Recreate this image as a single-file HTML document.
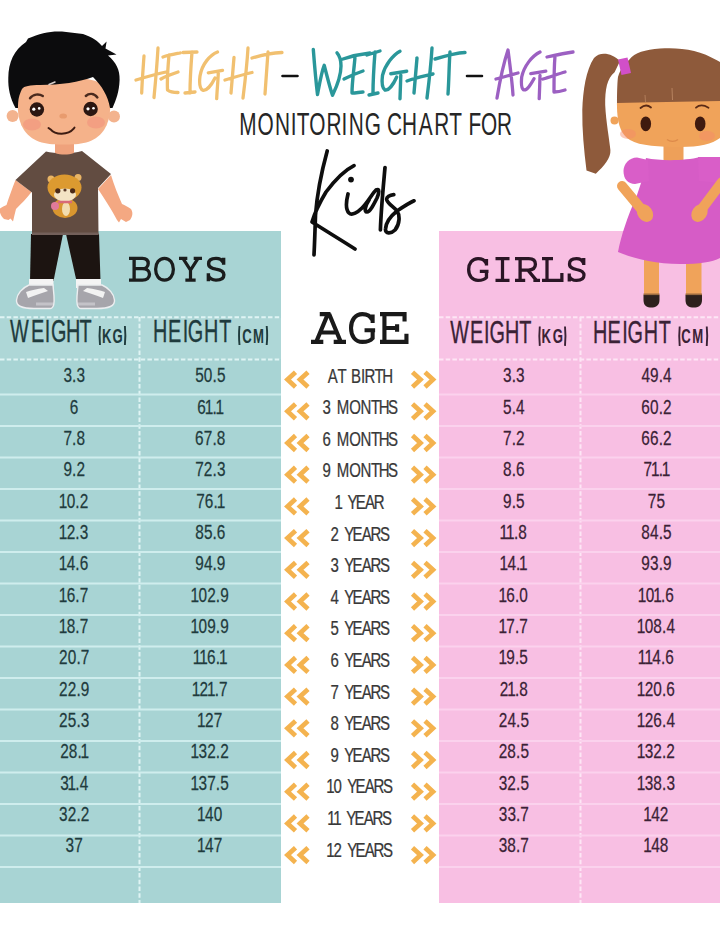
<!DOCTYPE html>
<html><head><meta charset="utf-8"><title>Height Weight Age Chart for Kids</title>
<style>
html,body{margin:0;padding:0;background:#fff;}
body{width:720px;height:931px;overflow:hidden;position:relative;font-family:"Liberation Sans",sans-serif;}
svg{position:absolute;left:0;top:0;}
</style></head><body>
<svg width="720" height="931" viewBox="0 0 720 931">
<rect x="0" y="231" width="281" height="672" fill="#a8d4d4"/>
<rect x="439" y="231" width="281" height="672" fill="#f8bfe3"/>
<rect x="0" y="318" width="281" height="41" fill="#ffffff" opacity="0.07"/>
<line x1="0" y1="317.2" x2="281" y2="317.2" stroke="#dff4f4" stroke-width="2" stroke-dasharray="4.5 2.2"/>
<line x1="0" y1="359.4" x2="281" y2="359.4" stroke="#dff4f4" stroke-width="2" stroke-dasharray="4.5 2.2"/>
<line x1="139.5" y1="317" x2="139.5" y2="903" stroke="#dff4f4" stroke-width="2" stroke-dasharray="4.5 2.2"/>
<line x1="0" y1="394.4" x2="281" y2="394.4" stroke="#cfeded" stroke-width="2"/>
<line x1="0" y1="425.9" x2="281" y2="425.9" stroke="#cfeded" stroke-width="2"/>
<line x1="0" y1="457.4" x2="281" y2="457.4" stroke="#cfeded" stroke-width="2"/>
<line x1="0" y1="488.9" x2="281" y2="488.9" stroke="#cfeded" stroke-width="2"/>
<line x1="0" y1="520.4" x2="281" y2="520.4" stroke="#cfeded" stroke-width="2"/>
<line x1="0" y1="551.9" x2="281" y2="551.9" stroke="#cfeded" stroke-width="2"/>
<line x1="0" y1="583.4" x2="281" y2="583.4" stroke="#cfeded" stroke-width="2"/>
<line x1="0" y1="614.9" x2="281" y2="614.9" stroke="#cfeded" stroke-width="2"/>
<line x1="0" y1="646.4" x2="281" y2="646.4" stroke="#cfeded" stroke-width="2"/>
<line x1="0" y1="677.9" x2="281" y2="677.9" stroke="#cfeded" stroke-width="2"/>
<line x1="0" y1="709.4" x2="281" y2="709.4" stroke="#cfeded" stroke-width="2"/>
<line x1="0" y1="740.9" x2="281" y2="740.9" stroke="#cfeded" stroke-width="2"/>
<line x1="0" y1="772.4" x2="281" y2="772.4" stroke="#cfeded" stroke-width="2"/>
<line x1="0" y1="803.9" x2="281" y2="803.9" stroke="#cfeded" stroke-width="2"/>
<line x1="0" y1="835.4" x2="281" y2="835.4" stroke="#cfeded" stroke-width="2"/>
<line x1="0" y1="866.9" x2="281" y2="866.9" stroke="#cfeded" stroke-width="2"/>
<rect x="439" y="318" width="281" height="41" fill="#ffffff" opacity="0.07"/>
<line x1="439" y1="317.2" x2="720" y2="317.2" stroke="#fde6f5" stroke-width="2" stroke-dasharray="4.5 2.2"/>
<line x1="439" y1="359.4" x2="720" y2="359.4" stroke="#fde6f5" stroke-width="2" stroke-dasharray="4.5 2.2"/>
<line x1="580.5" y1="317" x2="580.5" y2="903" stroke="#fde6f5" stroke-width="2" stroke-dasharray="4.5 2.2"/>
<line x1="439" y1="394.4" x2="720" y2="394.4" stroke="#fbd2ed" stroke-width="2"/>
<line x1="439" y1="425.9" x2="720" y2="425.9" stroke="#fbd2ed" stroke-width="2"/>
<line x1="439" y1="457.4" x2="720" y2="457.4" stroke="#fbd2ed" stroke-width="2"/>
<line x1="439" y1="488.9" x2="720" y2="488.9" stroke="#fbd2ed" stroke-width="2"/>
<line x1="439" y1="520.4" x2="720" y2="520.4" stroke="#fbd2ed" stroke-width="2"/>
<line x1="439" y1="551.9" x2="720" y2="551.9" stroke="#fbd2ed" stroke-width="2"/>
<line x1="439" y1="583.4" x2="720" y2="583.4" stroke="#fbd2ed" stroke-width="2"/>
<line x1="439" y1="614.9" x2="720" y2="614.9" stroke="#fbd2ed" stroke-width="2"/>
<line x1="439" y1="646.4" x2="720" y2="646.4" stroke="#fbd2ed" stroke-width="2"/>
<line x1="439" y1="677.9" x2="720" y2="677.9" stroke="#fbd2ed" stroke-width="2"/>
<line x1="439" y1="709.4" x2="720" y2="709.4" stroke="#fbd2ed" stroke-width="2"/>
<line x1="439" y1="740.9" x2="720" y2="740.9" stroke="#fbd2ed" stroke-width="2"/>
<line x1="439" y1="772.4" x2="720" y2="772.4" stroke="#fbd2ed" stroke-width="2"/>
<line x1="439" y1="803.9" x2="720" y2="803.9" stroke="#fbd2ed" stroke-width="2"/>
<line x1="439" y1="835.4" x2="720" y2="835.4" stroke="#fbd2ed" stroke-width="2"/>
<line x1="439" y1="866.9" x2="720" y2="866.9" stroke="#fbd2ed" stroke-width="2"/>
<text transform="scale(0.75,1)" x="84.63 96.09 101.96" y="382.3" font-family="Liberation Sans" font-size="20.5" fill="#1f3b3d" stroke="#1f3b3d" stroke-width="0.25">3.3</text>
<text transform="scale(0.75,1)" x="260.25 271.83 283.35 289.19" y="382.3" font-family="Liberation Sans" font-size="20.5" fill="#1f3b3d" stroke="#1f3b3d" stroke-width="0.25">50.5</text>
<text transform="scale(0.75,1)" x="670.76 682.22 688.09" y="382.3" font-family="Liberation Sans" font-size="20.5" fill="#3b2236" stroke="#3b2236" stroke-width="0.25">3.3</text>
<text transform="scale(0.75,1)" x="855.23 866.77 878.29 884.16" y="382.3" font-family="Liberation Sans" font-size="20.5" fill="#3b2236" stroke="#3b2236" stroke-width="0.25">49.4</text>
<text transform="scale(0.75,1)" x="93.16" y="413.7" font-family="Liberation Sans" font-size="20.5" fill="#1f3b3d" stroke="#1f3b3d" stroke-width="0.25">6</text>
<text transform="scale(0.75,1)" x="262.96 272.95 283.35 287.49" y="413.7" font-family="Liberation Sans" font-size="20.5" fill="#1f3b3d" stroke="#1f3b3d" stroke-width="0.25">61.1</text>
<text transform="scale(0.75,1)" x="670.72 682.22 688.10" y="413.7" font-family="Liberation Sans" font-size="20.5" fill="#3b2236" stroke="#3b2236" stroke-width="0.25">5.4</text>
<text transform="scale(0.75,1)" x="855.10 866.77 878.29 884.10" y="413.7" font-family="Liberation Sans" font-size="20.5" fill="#3b2236" stroke="#3b2236" stroke-width="0.25">60.2</text>
<text transform="scale(0.75,1)" x="84.56 96.09 101.90" y="445.0" font-family="Liberation Sans" font-size="20.5" fill="#1f3b3d" stroke="#1f3b3d" stroke-width="0.25">7.8</text>
<text transform="scale(0.75,1)" x="260.16 271.82 283.35 289.17" y="445.0" font-family="Liberation Sans" font-size="20.5" fill="#1f3b3d" stroke="#1f3b3d" stroke-width="0.25">67.8</text>
<text transform="scale(0.75,1)" x="670.69 682.22 688.03" y="445.0" font-family="Liberation Sans" font-size="20.5" fill="#3b2236" stroke="#3b2236" stroke-width="0.25">7.2</text>
<text transform="scale(0.75,1)" x="855.10 866.70 878.29 884.10" y="445.0" font-family="Liberation Sans" font-size="20.5" fill="#3b2236" stroke="#3b2236" stroke-width="0.25">66.2</text>
<text transform="scale(0.75,1)" x="84.57 96.09 101.90" y="476.4" font-family="Liberation Sans" font-size="20.5" fill="#1f3b3d" stroke="#1f3b3d" stroke-width="0.25">9.2</text>
<text transform="scale(0.75,1)" x="260.22 271.83 283.35 289.23" y="476.4" font-family="Liberation Sans" font-size="20.5" fill="#1f3b3d" stroke="#1f3b3d" stroke-width="0.25">72.3</text>
<text transform="scale(0.75,1)" x="670.70 682.22 687.96" y="476.4" font-family="Liberation Sans" font-size="20.5" fill="#3b2236" stroke="#3b2236" stroke-width="0.25">8.6</text>
<text transform="scale(0.75,1)" x="857.96 867.89 878.29 882.42" y="476.4" font-family="Liberation Sans" font-size="20.5" fill="#3b2236" stroke="#3b2236" stroke-width="0.25">71.1</text>
<text transform="scale(0.75,1)" x="78.49 88.97 100.49 106.30" y="507.7" font-family="Liberation Sans" font-size="20.5" fill="#1f3b3d" stroke="#1f3b3d" stroke-width="0.25">10.2</text>
<text transform="scale(0.75,1)" x="261.62 273.16 284.75 288.89" y="507.7" font-family="Liberation Sans" font-size="20.5" fill="#1f3b3d" stroke="#1f3b3d" stroke-width="0.25">76.1</text>
<text transform="scale(0.75,1)" x="670.70 682.22 688.05" y="507.7" font-family="Liberation Sans" font-size="20.5" fill="#3b2236" stroke="#3b2236" stroke-width="0.25">9.5</text>
<text transform="scale(0.75,1)" x="863.82 875.45" y="507.7" font-family="Liberation Sans" font-size="20.5" fill="#3b2236" stroke="#3b2236" stroke-width="0.25">75</text>
<text transform="scale(0.75,1)" x="78.49 88.97 100.49 106.36" y="539.0" font-family="Liberation Sans" font-size="20.5" fill="#1f3b3d" stroke="#1f3b3d" stroke-width="0.25">12.3</text>
<text transform="scale(0.75,1)" x="260.23 271.85 283.35 289.10" y="539.0" font-family="Liberation Sans" font-size="20.5" fill="#1f3b3d" stroke="#1f3b3d" stroke-width="0.25">85.6</text>
<text transform="scale(0.75,1)" x="666.02 674.82 685.22 691.03" y="539.0" font-family="Liberation Sans" font-size="20.5" fill="#3b2236" stroke="#3b2236" stroke-width="0.25">11.8</text>
<text transform="scale(0.75,1)" x="855.17 866.83 878.29 884.12" y="539.0" font-family="Liberation Sans" font-size="20.5" fill="#3b2236" stroke="#3b2236" stroke-width="0.25">84.5</text>
<text transform="scale(0.75,1)" x="78.49 89.03 100.49 106.23" y="570.4" font-family="Liberation Sans" font-size="20.5" fill="#1f3b3d" stroke="#1f3b3d" stroke-width="0.25">14.6</text>
<text transform="scale(0.75,1)" x="260.24 271.90 283.35 289.17" y="570.4" font-family="Liberation Sans" font-size="20.5" fill="#1f3b3d" stroke="#1f3b3d" stroke-width="0.25">94.9</text>
<text transform="scale(0.75,1)" x="666.02 676.56 688.02 692.15" y="570.4" font-family="Liberation Sans" font-size="20.5" fill="#3b2236" stroke="#3b2236" stroke-width="0.25">14.1</text>
<text transform="scale(0.75,1)" x="855.17 866.83 878.29 884.10" y="570.4" font-family="Liberation Sans" font-size="20.5" fill="#3b2236" stroke="#3b2236" stroke-width="0.25">93.9</text>
<text transform="scale(0.75,1)" x="78.49 88.90 100.49 106.29" y="601.8" font-family="Liberation Sans" font-size="20.5" fill="#1f3b3d" stroke="#1f3b3d" stroke-width="0.25">16.7</text>
<text transform="scale(0.75,1)" x="254.15 264.63 276.23 287.75 293.57" y="601.8" font-family="Liberation Sans" font-size="20.5" fill="#1f3b3d" stroke="#1f3b3d" stroke-width="0.25">102.9</text>
<text transform="scale(0.75,1)" x="664.62 675.03 686.62 692.43" y="601.8" font-family="Liberation Sans" font-size="20.5" fill="#3b2236" stroke="#3b2236" stroke-width="0.25">16.0</text>
<text transform="scale(0.75,1)" x="850.49 860.97 870.89 881.29 887.03" y="601.8" font-family="Liberation Sans" font-size="20.5" fill="#3b2236" stroke="#3b2236" stroke-width="0.25">101.6</text>
<text transform="scale(0.75,1)" x="78.49 88.97 100.49 106.29" y="633.1" font-family="Liberation Sans" font-size="20.5" fill="#1f3b3d" stroke="#1f3b3d" stroke-width="0.25">18.7</text>
<text transform="scale(0.75,1)" x="254.15 264.63 276.24 287.75 293.57" y="633.1" font-family="Liberation Sans" font-size="20.5" fill="#1f3b3d" stroke="#1f3b3d" stroke-width="0.25">109.9</text>
<text transform="scale(0.75,1)" x="664.62 675.09 686.62 692.42" y="633.1" font-family="Liberation Sans" font-size="20.5" fill="#3b2236" stroke="#3b2236" stroke-width="0.25">17.7</text>
<text transform="scale(0.75,1)" x="849.09 859.57 871.17 882.69 888.56" y="633.1" font-family="Liberation Sans" font-size="20.5" fill="#3b2236" stroke="#3b2236" stroke-width="0.25">108.4</text>
<text transform="scale(0.75,1)" x="78.77 90.37 101.89 107.69" y="664.5" font-family="Liberation Sans" font-size="20.5" fill="#1f3b3d" stroke="#1f3b3d" stroke-width="0.25">20.7</text>
<text transform="scale(0.75,1)" x="256.95 265.75 276.16 287.75 291.89" y="664.5" font-family="Liberation Sans" font-size="20.5" fill="#1f3b3d" stroke="#1f3b3d" stroke-width="0.25">116.1</text>
<text transform="scale(0.75,1)" x="664.62 675.10 686.62 692.45" y="664.5" font-family="Liberation Sans" font-size="20.5" fill="#3b2236" stroke="#3b2236" stroke-width="0.25">19.5</text>
<text transform="scale(0.75,1)" x="850.49 859.29 869.83 881.29 887.03" y="664.5" font-family="Liberation Sans" font-size="20.5" fill="#3b2236" stroke="#3b2236" stroke-width="0.25">114.6</text>
<text transform="scale(0.75,1)" x="78.77 90.37 101.89 107.70" y="695.8" font-family="Liberation Sans" font-size="20.5" fill="#1f3b3d" stroke="#1f3b3d" stroke-width="0.25">22.9</text>
<text transform="scale(0.75,1)" x="255.55 266.03 275.95 286.35 292.16" y="695.8" font-family="Liberation Sans" font-size="20.5" fill="#1f3b3d" stroke="#1f3b3d" stroke-width="0.25">121.7</text>
<text transform="scale(0.75,1)" x="666.30 676.22 686.62 692.43" y="695.8" font-family="Liberation Sans" font-size="20.5" fill="#3b2236" stroke="#3b2236" stroke-width="0.25">21.8</text>
<text transform="scale(0.75,1)" x="849.09 859.57 871.17 882.69 888.43" y="695.8" font-family="Liberation Sans" font-size="20.5" fill="#3b2236" stroke="#3b2236" stroke-width="0.25">120.6</text>
<text transform="scale(0.75,1)" x="78.77 90.39 101.89 107.76" y="727.2" font-family="Liberation Sans" font-size="20.5" fill="#1f3b3d" stroke="#1f3b3d" stroke-width="0.25">25.3</text>
<text transform="scale(0.75,1)" x="262.82 273.30 284.89" y="727.2" font-family="Liberation Sans" font-size="20.5" fill="#1f3b3d" stroke="#1f3b3d" stroke-width="0.25">127</text>
<text transform="scale(0.75,1)" x="664.90 676.56 688.02 693.85" y="727.2" font-family="Liberation Sans" font-size="20.5" fill="#3b2236" stroke="#3b2236" stroke-width="0.25">24.5</text>
<text transform="scale(0.75,1)" x="849.09 859.57 871.10 882.69 888.56" y="727.2" font-family="Liberation Sans" font-size="20.5" fill="#3b2236" stroke="#3b2236" stroke-width="0.25">126.4</text>
<text transform="scale(0.75,1)" x="80.17 91.77 103.29 107.42" y="758.5" font-family="Liberation Sans" font-size="20.5" fill="#1f3b3d" stroke="#1f3b3d" stroke-width="0.25">28.1</text>
<text transform="scale(0.75,1)" x="254.15 264.69 276.23 287.75 293.57" y="758.5" font-family="Liberation Sans" font-size="20.5" fill="#1f3b3d" stroke="#1f3b3d" stroke-width="0.25">132.2</text>
<text transform="scale(0.75,1)" x="664.90 676.50 688.02 693.85" y="758.5" font-family="Liberation Sans" font-size="20.5" fill="#3b2236" stroke="#3b2236" stroke-width="0.25">28.5</text>
<text transform="scale(0.75,1)" x="849.09 859.63 871.17 882.69 888.50" y="758.5" font-family="Liberation Sans" font-size="20.5" fill="#3b2236" stroke="#3b2236" stroke-width="0.25">132.2</text>
<text transform="scale(0.75,1)" x="80.23 90.09 100.49 106.36" y="789.9" font-family="Liberation Sans" font-size="20.5" fill="#1f3b3d" stroke="#1f3b3d" stroke-width="0.25">31.4</text>
<text transform="scale(0.75,1)" x="254.15 264.69 276.22 287.75 293.59" y="789.9" font-family="Liberation Sans" font-size="20.5" fill="#1f3b3d" stroke="#1f3b3d" stroke-width="0.25">137.5</text>
<text transform="scale(0.75,1)" x="664.96 676.50 688.02 693.85" y="789.9" font-family="Liberation Sans" font-size="20.5" fill="#3b2236" stroke="#3b2236" stroke-width="0.25">32.5</text>
<text transform="scale(0.75,1)" x="849.09 859.63 871.17 882.69 888.56" y="789.9" font-family="Liberation Sans" font-size="20.5" fill="#3b2236" stroke="#3b2236" stroke-width="0.25">138.3</text>
<text transform="scale(0.75,1)" x="78.83 90.37 101.89 107.70" y="821.2" font-family="Liberation Sans" font-size="20.5" fill="#1f3b3d" stroke="#1f3b3d" stroke-width="0.25">32.2</text>
<text transform="scale(0.75,1)" x="262.82 273.36 284.90" y="821.2" font-family="Liberation Sans" font-size="20.5" fill="#1f3b3d" stroke="#1f3b3d" stroke-width="0.25">140</text>
<text transform="scale(0.75,1)" x="664.96 676.56 688.02 693.82" y="821.2" font-family="Liberation Sans" font-size="20.5" fill="#3b2236" stroke="#3b2236" stroke-width="0.25">33.7</text>
<text transform="scale(0.75,1)" x="857.75 868.30 879.83" y="821.2" font-family="Liberation Sans" font-size="20.5" fill="#3b2236" stroke="#3b2236" stroke-width="0.25">142</text>
<text transform="scale(0.75,1)" x="87.49 99.02" y="852.5" font-family="Liberation Sans" font-size="20.5" fill="#1f3b3d" stroke="#1f3b3d" stroke-width="0.25">37</text>
<text transform="scale(0.75,1)" x="262.82 273.36 284.89" y="852.5" font-family="Liberation Sans" font-size="20.5" fill="#1f3b3d" stroke="#1f3b3d" stroke-width="0.25">147</text>
<text transform="scale(0.75,1)" x="664.96 676.50 688.02 693.82" y="852.5" font-family="Liberation Sans" font-size="20.5" fill="#3b2236" stroke="#3b2236" stroke-width="0.25">38.7</text>
<text transform="scale(0.75,1)" x="857.75 868.30 879.83" y="852.5" font-family="Liberation Sans" font-size="20.5" fill="#3b2236" stroke="#3b2236" stroke-width="0.25">148</text>
<text transform="scale(0.74,1)" x="442.89 455.97 471.96 474.35 487.72 492.65 505.97 516.65" y="382.6" font-family="Liberation Sans" font-size="20.3" fill="#383838" stroke="#383838" stroke-width="0.25">AT BIRTH</text>
<path d="M295.5,372.2 L287.5,379.6 L295.5,387.0 M308,372.2 L300,379.6 L308,387.0" fill="none" stroke="#f4b34f" stroke-width="4.7"/>
<path d="M412.5,372.2 L420.5,379.6 L412.5,387.0 M425,372.2 L433,379.6 L425,387.0" fill="none" stroke="#f4b34f" stroke-width="4.7"/>
<text transform="scale(0.74,1)" x="435.97 451.01 455.06 471.84 487.26 501.24 511.92 524.32" y="414.2" font-family="Liberation Sans" font-size="20.3" fill="#383838" stroke="#383838" stroke-width="0.25">3 MONTHS</text>
<path d="M295.5,403.9 L287.5,411.3 L295.5,418.7 M308,403.9 L300,411.3 L308,418.7" fill="none" stroke="#f4b34f" stroke-width="4.7"/>
<path d="M412.5,403.9 L420.5,411.3 L412.5,418.7 M425,403.9 L433,411.3 L425,418.7" fill="none" stroke="#f4b34f" stroke-width="4.7"/>
<text transform="scale(0.74,1)" x="435.84 451.01 455.06 471.84 487.26 501.24 511.92 524.32" y="445.8" font-family="Liberation Sans" font-size="20.3" fill="#383838" stroke="#383838" stroke-width="0.25">6 MONTHS</text>
<path d="M295.5,435.6 L287.5,443.0 L295.5,450.4 M308,435.6 L300,443.0 L308,450.4" fill="none" stroke="#f4b34f" stroke-width="4.7"/>
<path d="M412.5,435.6 L420.5,443.0 L412.5,450.4 M425,435.6 L433,443.0 L425,450.4" fill="none" stroke="#f4b34f" stroke-width="4.7"/>
<text transform="scale(0.74,1)" x="435.91 451.01 455.06 471.84 487.26 501.24 511.92 524.32" y="477.4" font-family="Liberation Sans" font-size="20.3" fill="#383838" stroke="#383838" stroke-width="0.25">9 MONTHS</text>
<path d="M295.5,467.3 L287.5,474.7 L295.5,482.1 M308,467.3 L300,474.7 L308,482.1" fill="none" stroke="#f4b34f" stroke-width="4.7"/>
<path d="M412.5,467.3 L420.5,474.7 L412.5,482.1 M425,467.3 L433,474.7 L425,482.1" fill="none" stroke="#f4b34f" stroke-width="4.7"/>
<text transform="scale(0.74,1)" x="452.19 466.22 469.58 480.67 493.23 505.15" y="509.0" font-family="Liberation Sans" font-size="20.3" fill="#383838" stroke="#383838" stroke-width="0.25">1 YEAR</text>
<path d="M295.5,499.0 L287.5,506.4 L295.5,513.8 M308,499.0 L300,506.4 L308,513.8" fill="none" stroke="#f4b34f" stroke-width="4.7"/>
<path d="M412.5,499.0 L420.5,506.4 L412.5,513.8 M425,499.0 L433,506.4 L425,513.8" fill="none" stroke="#f4b34f" stroke-width="4.7"/>
<text transform="scale(0.74,1)" x="446.72 461.82 465.19 476.28 488.84 500.75 513.51" y="540.6" font-family="Liberation Sans" font-size="20.3" fill="#383838" stroke="#383838" stroke-width="0.25">2 YEARS</text>
<path d="M295.5,530.7 L287.5,538.1 L295.5,545.5 M308,530.7 L300,538.1 L308,545.5" fill="none" stroke="#f4b34f" stroke-width="4.7"/>
<path d="M412.5,530.7 L420.5,538.1 L412.5,545.5 M425,530.7 L433,538.1 L425,545.5" fill="none" stroke="#f4b34f" stroke-width="4.7"/>
<text transform="scale(0.74,1)" x="446.78 461.82 465.19 476.28 488.84 500.75 513.51" y="572.2" font-family="Liberation Sans" font-size="20.3" fill="#383838" stroke="#383838" stroke-width="0.25">3 YEARS</text>
<path d="M295.5,562.4 L287.5,569.8 L295.5,577.2 M308,562.4 L300,569.8 L308,577.2" fill="none" stroke="#f4b34f" stroke-width="4.7"/>
<path d="M412.5,562.4 L420.5,569.8 L412.5,577.2 M425,562.4 L433,569.8 L425,577.2" fill="none" stroke="#f4b34f" stroke-width="4.7"/>
<text transform="scale(0.74,1)" x="446.78 461.82 465.19 476.28 488.84 500.75 513.51" y="603.8" font-family="Liberation Sans" font-size="20.3" fill="#383838" stroke="#383838" stroke-width="0.25">4 YEARS</text>
<path d="M295.5,594.1 L287.5,601.5 L295.5,608.9 M308,594.1 L300,601.5 L308,608.9" fill="none" stroke="#f4b34f" stroke-width="4.7"/>
<path d="M412.5,594.1 L420.5,601.5 L412.5,608.9 M425,594.1 L433,601.5 L425,608.9" fill="none" stroke="#f4b34f" stroke-width="4.7"/>
<text transform="scale(0.74,1)" x="446.74 461.82 465.19 476.28 488.84 500.75 513.51" y="635.4" font-family="Liberation Sans" font-size="20.3" fill="#383838" stroke="#383838" stroke-width="0.25">5 YEARS</text>
<path d="M295.5,625.8 L287.5,633.2 L295.5,640.6 M308,625.8 L300,633.2 L308,640.6" fill="none" stroke="#f4b34f" stroke-width="4.7"/>
<path d="M412.5,625.8 L420.5,633.2 L412.5,640.6 M425,625.8 L433,633.2 L425,640.6" fill="none" stroke="#f4b34f" stroke-width="4.7"/>
<text transform="scale(0.74,1)" x="446.65 461.82 465.19 476.28 488.84 500.75 513.51" y="667.0" font-family="Liberation Sans" font-size="20.3" fill="#383838" stroke="#383838" stroke-width="0.25">6 YEARS</text>
<path d="M295.5,657.5 L287.5,664.9 L295.5,672.3 M308,657.5 L300,664.9 L308,672.3" fill="none" stroke="#f4b34f" stroke-width="4.7"/>
<path d="M412.5,657.5 L420.5,664.9 L412.5,672.3 M425,657.5 L433,664.9 L425,672.3" fill="none" stroke="#f4b34f" stroke-width="4.7"/>
<text transform="scale(0.74,1)" x="446.71 461.82 465.19 476.28 488.84 500.75 513.51" y="698.6" font-family="Liberation Sans" font-size="20.3" fill="#383838" stroke="#383838" stroke-width="0.25">7 YEARS</text>
<path d="M295.5,689.2 L287.5,696.6 L295.5,704.0 M308,689.2 L300,696.6 L308,704.0" fill="none" stroke="#f4b34f" stroke-width="4.7"/>
<path d="M412.5,689.2 L420.5,696.6 L412.5,704.0 M425,689.2 L433,696.6 L425,704.0" fill="none" stroke="#f4b34f" stroke-width="4.7"/>
<text transform="scale(0.74,1)" x="446.72 461.82 465.19 476.28 488.84 500.75 513.51" y="730.2" font-family="Liberation Sans" font-size="20.3" fill="#383838" stroke="#383838" stroke-width="0.25">8 YEARS</text>
<path d="M295.5,720.9 L287.5,728.3 L295.5,735.7 M308,720.9 L300,728.3 L308,735.7" fill="none" stroke="#f4b34f" stroke-width="4.7"/>
<path d="M412.5,720.9 L420.5,728.3 L412.5,735.7 M425,720.9 L433,728.3 L425,735.7" fill="none" stroke="#f4b34f" stroke-width="4.7"/>
<text transform="scale(0.74,1)" x="446.72 461.82 465.19 476.28 488.84 500.75 513.51" y="761.8" font-family="Liberation Sans" font-size="20.3" fill="#383838" stroke="#383838" stroke-width="0.25">9 YEARS</text>
<path d="M295.5,752.6 L287.5,760.0 L295.5,767.4 M308,752.6 L300,760.0 L308,767.4" fill="none" stroke="#f4b34f" stroke-width="4.7"/>
<path d="M412.5,752.6 L420.5,760.0 L412.5,767.4 M425,752.6 L433,760.0 L425,767.4" fill="none" stroke="#f4b34f" stroke-width="4.7"/>
<text transform="scale(0.74,1)" x="441.04 450.77 465.88 469.24 480.33 492.89 504.81 517.56" y="793.4" font-family="Liberation Sans" font-size="20.3" fill="#383838" stroke="#383838" stroke-width="0.25">10 YEARS</text>
<path d="M295.5,784.3 L287.5,791.7 L295.5,799.1 M308,784.3 L300,791.7 L308,799.1" fill="none" stroke="#f4b34f" stroke-width="4.7"/>
<path d="M412.5,784.3 L420.5,791.7 L412.5,799.1 M425,784.3 L433,791.7 L425,799.1" fill="none" stroke="#f4b34f" stroke-width="4.7"/>
<text transform="scale(0.74,1)" x="442.39 450.50 464.53 467.89 478.98 491.54 503.46 516.21" y="825.0" font-family="Liberation Sans" font-size="20.3" fill="#383838" stroke="#383838" stroke-width="0.25">11 YEARS</text>
<path d="M295.5,816.0 L287.5,823.4 L295.5,830.8 M308,816.0 L300,823.4 L308,830.8" fill="none" stroke="#f4b34f" stroke-width="4.7"/>
<path d="M412.5,816.0 L420.5,823.4 L412.5,830.8 M425,816.0 L433,823.4 L425,830.8" fill="none" stroke="#f4b34f" stroke-width="4.7"/>
<text transform="scale(0.74,1)" x="441.04 450.77 465.88 469.24 480.33 492.89 504.81 517.56" y="856.6" font-family="Liberation Sans" font-size="20.3" fill="#383838" stroke="#383838" stroke-width="0.25">12 YEARS</text>
<path d="M295.5,847.7 L287.5,855.1 L295.5,862.5 M308,847.7 L300,855.1 L308,862.5" fill="none" stroke="#f4b34f" stroke-width="4.7"/>
<path d="M412.5,847.7 L420.5,855.1 L412.5,862.5 M425,847.7 L433,855.1 L425,862.5" fill="none" stroke="#f4b34f" stroke-width="4.7"/>
<text transform="scale(0.64,1)" x="15.67 48.59 69.91 79.57 103.02 124.29" y="342" font-family="Liberation Sans" font-size="31" fill="#1f3b3d" stroke="#1f3b3d" stroke-width="0.35">WEIGHT</text>
<path d="M100,326 C99.4,332 99.4,339 100,345 M124.9,326 C125.5,332 125.5,339 124.9,345" fill="none" stroke="#1f3b3d" stroke-width="1.9"/>
<text transform="scale(0.64,1)" x="159.19 175.68" y="342.6" font-family="Liberation Sans" font-size="20.5" font-weight="bold" fill="#1f3b3d">KG</text>
<text transform="scale(0.64,1)" x="239.11 262.34 285.54 293.32 318.64 342.41" y="342.3" font-family="Liberation Sans" font-size="31" fill="#1f3b3d" stroke="#1f3b3d" stroke-width="0.35">HEIGHT</text>
<path d="M239.5,326 C238.9,332 238.9,339 239.5,345 M266.7,326 C267.3,332 267.3,339 266.7,345" fill="none" stroke="#1f3b3d" stroke-width="1.9"/>
<text transform="scale(0.64,1)" x="378.71 395.21" y="342.6" font-family="Liberation Sans" font-size="20.5" font-weight="bold" fill="#1f3b3d">CM</text>
<text transform="scale(0.64,1)" x="703.48 734.52 756.32 765.04 788.96 811.24" y="343.3" font-family="Liberation Sans" font-size="31" fill="#3b2236" stroke="#3b2236" stroke-width="0.35">WEIGHT</text>
<path d="M539.8,326.5 C539.1999999999999,332.5 539.1999999999999,339.8 539.8,345.8 M565,326.5 C565.6,332.5 565.6,339.8 565,345.8" fill="none" stroke="#3b2236" stroke-width="1.9"/>
<text transform="scale(0.64,1)" x="846.23 863.73" y="343.5" font-family="Liberation Sans" font-size="20.5" font-weight="bold" fill="#3b2236">KG</text>
<text transform="scale(0.64,1)" x="926.61 949.37 972.10 980.35 1005.67 1029.45" y="343.3" font-family="Liberation Sans" font-size="31" fill="#3b2236" stroke="#3b2236" stroke-width="0.35">HEIGHT</text>
<path d="M679.7,326.5 C679.1,332.5 679.1,340 679.7,346 M706.75,326.5 C707.35,332.5 707.35,340 706.75,346" fill="none" stroke="#3b2236" stroke-width="1.9"/>
<text transform="scale(0.64,1)" x="1064.33 1081.62" y="343.5" font-family="Liberation Sans" font-size="20.5" font-weight="bold" fill="#3b2236">CM</text>
<path transform="translate(311,312) scale(0.3241,0.3200)" d="M27,6.5 H60 M52,6.5 L16,94 M56,6.5 L92,94 M30,64 H80 M0,93.5 H38 M70,93.5 H108" fill="none" stroke="#1a1a1a" stroke-width="13"/>
<path transform="translate(349,312) scale(0.3110,0.3200)" d="M76,8 V34 M74,24 C68,10 56,6.5 43,6.5 C20,6.5 6.5,26 6.5,50 C6.5,75 20,93.5 43,93.5 C58,93.5 70,89 76,82 V57 M50,57 H84" fill="none" stroke="#1a1a1a" stroke-width="13"/>
<path transform="translate(380,312) scale(0.3167,0.3200)" d="M14,6.5 V93.5 M0,6.5 H78 M77.5,0 V30 M14,50 H54 M54,38 V62 M0,93.5 H84 M83.5,68 V100" fill="none" stroke="#1a1a1a" stroke-width="13"/>
<path transform="translate(129,256.7) scale(0.2561,0.2500)" d="M20,6.5 V93.5 M0,6.5 H52 C70,6.5 75,16 75,27 C75,40 66,48 52,48 H20 M52,48 C70,48 80,57 80,70 C80,84 70,93.5 52,93.5 H0" fill="none" stroke="#1a1d1d" stroke-width="13"/>
<path transform="translate(154,256.7) scale(0.2500,0.2500)" d="M42,6.5 C64,6.5 77.5,26 77.5,50 C77.5,74 64,93.5 42,93.5 C20,93.5 6.5,74 6.5,50 C6.5,26 20,6.5 42,6.5 Z" fill="none" stroke="#1a1d1d" stroke-width="13"/>
<path transform="translate(179,256.7) scale(0.2447,0.2500)" d="M16,6.5 L47,54 M78,6.5 L47,54 M47,52 V93.5 M0,6.5 H34 M60,6.5 H94 M26,93.5 H68" fill="none" stroke="#1a1d1d" stroke-width="13"/>
<path transform="translate(206,256.7) scale(0.2632,0.2500)" d="M67,4 V32 M66,24 C60,10 50,6.5 38,6.5 C20,6.5 10,15 10,28 C10,44 24,47 38,50 C54,53 68,57 68,72 C68,86 56,93.5 38,93.5 C24,93.5 14,88 9,76 M9,66 V98" fill="none" stroke="#1a1d1d" stroke-width="13"/>
<path transform="translate(467,257) scale(0.2561,0.2500)" d="M76,8 V34 M74,24 C68,10 56,6.5 43,6.5 C20,6.5 6.5,26 6.5,50 C6.5,75 20,93.5 43,93.5 C58,93.5 70,89 76,82 V57 M50,57 H84" fill="none" stroke="#2a1525" stroke-width="13"/>
<path transform="translate(494,257) scale(0.2500,0.2500)" d="M34,6.5 V93.5 M6,6.5 H62 M6,93.5 H62" fill="none" stroke="#2a1525" stroke-width="13"/>
<path transform="translate(515,257) scale(0.2551,0.2500)" d="M20,6.5 V93.5 M0,6.5 H54 C72,6.5 80,16 80,29 C80,44 70,52 52,52 H20 M50,52 L84,93.5 M0,93.5 H40 M72,93.5 H98" fill="none" stroke="#2a1525" stroke-width="13"/>
<path transform="translate(542,257) scale(0.2500,0.2500)" d="M20,6.5 V93.5 M0,6.5 H44 M0,93.5 H80 M79.5,64 V100" fill="none" stroke="#2a1525" stroke-width="13"/>
<path transform="translate(567,257) scale(0.2500,0.2500)" d="M67,4 V32 M66,24 C60,10 50,6.5 38,6.5 C20,6.5 10,15 10,28 C10,44 24,47 38,50 C54,53 68,57 68,72 C68,86 56,93.5 38,93.5 C24,93.5 14,88 9,76 M9,66 V98" fill="none" stroke="#2a1525" stroke-width="13"/>
<text transform="scale(0.66,1)" x="362.33 390.33 416.65 440.70 449.48 468.67 494.73 517.44 528.39 552.53 581.06 586.46 608.92 634.34 658.06 680.69 704.55 709.87 728.67 753.22" y="135.3" font-family="Liberation Sans" font-size="31.5" fill="#262626">MONITORING CHART FOR</text>

<g id="boy">
  <!-- arms -->
  <path d="M15.5,180 L31.5,192 C27,198 21,204 16,209 L14.5,215 L13,221.5 L10.5,218.5 L8.5,220 L4,219 C1,216 -1,212 0,208.5 C2,207 4.5,206 6.5,205 C9,197 12,189 15.5,180 Z" fill="#f4a882"/>
  <path d="M111,175 L98,189 C104,198 112,210 117,220 L119,222.5 L121,219 L126,222 L130,220 C133,216 133,212 131,209 C128,207 125,205 122,204 C118,195 114,185 111,175 Z" fill="#f4a882"/>
  <!-- pants -->
  <path d="M31,234 L63,234 L53.5,281 L30,281 Z" fill="#1c1411"/>
  <path d="M66,234 L99,234 L100.5,281 L76.5,281 Z" fill="#1c1411"/>
  <!-- socks -->
  <rect x="29" y="279" width="24.5" height="9" fill="#f4f4f4"/>
  <rect x="76" y="279" width="25" height="9" fill="#f4f4f4"/>
  <!-- shoes -->
  <path d="M29,285 C22,288 17,294 16.5,300 C16,306 22,308.5 34,308.5 L50,308.5 C54,308.5 54.5,303 54,296 L53,285 Z" fill="#a6a5ab" stroke="#eceef0" stroke-width="1.4"/>
  <path d="M26,292 C31,290 37,289 44,288 L48,291 C41,293 34,296 28,298 Z" fill="#f2f2f2"/>
  <path d="M36,304 L53,304" stroke="#c4c3c8" stroke-width="3"/>
  <path d="M102,285 C109,288 114,294 114.5,300 C115,306 109,308.5 97,308.5 L81,308.5 C77,308.5 76.5,303 77,296 L78,285 Z" fill="#a6a5ab" stroke="#eceef0" stroke-width="1.4"/>
  <path d="M105,292 C100,290 94,289 87,288 L83,291 C90,293 97,296 103,298 Z" fill="#f2f2f2"/>
  <path d="M78,304 L95,304" stroke="#c4c3c8" stroke-width="3"/>
  <!-- shirt -->
  <path d="M46,151.5 C55,154 73,154 82,151 L111,174 L98,188 L98.5,235 L32,235 L32,192.5 L15.5,180 Z" fill="#624c41"/>
  <rect x="32" y="232.5" width="66.5" height="2.5" fill="#73605a"/>
  <!-- bear -->
  <ellipse cx="65" cy="208" rx="12.5" ry="10" fill="#d9962f"/>
  <ellipse cx="66" cy="209" rx="4" ry="7" fill="#f2ddb0"/>
  <circle cx="51" cy="179" r="3.5" fill="#e9b565"/>
  <circle cx="78" cy="177.5" r="3.5" fill="#e9b565"/>
  <ellipse cx="64.5" cy="187.5" rx="17" ry="13" fill="#dc9a30"/>
  <ellipse cx="65" cy="195" rx="11" ry="6.5" fill="#f3e3c4"/>
  <circle cx="57.8" cy="190.8" r="2.6" fill="#4a2a18"/>
  <circle cx="72.6" cy="190.8" r="2.6" fill="#4a2a18"/>
  <circle cx="65" cy="190" r="1.6" fill="#5a3a28"/>
  <path d="M58,202 L72,202" stroke="#d86a78" stroke-width="2.5"/>
  <circle cx="55" cy="206" r="4" fill="#e07a9a"/>
  <!-- neck -->
  <path d="M55,140 L74,140 L74,153 C68,155 61,155 55,153 Z" fill="#efa27c"/>
  <!-- ears -->
  <circle cx="12.6" cy="116" r="6" fill="#f3b38e"/>
  <circle cx="114" cy="116.5" r="6" fill="#f3b38e"/>
  <!-- face -->
  <path d="M22,86 C16,98 16,118 24,130 C34,144 48,144.5 63.5,144.5 C80,144.5 94,144 104,130 C112,118 112,98 106,86 C90,74 38,74 22,86 Z" fill="#f5b28a"/>
  <!-- blush -->
  <ellipse cx="32" cy="124.5" rx="9" ry="6" fill="#f08f7c" opacity="0.55"/>
  <ellipse cx="96" cy="122.6" rx="9" ry="6" fill="#f08f7c" opacity="0.55"/>
  <!-- eyes -->
  <circle cx="36.9" cy="109.5" r="7.2" fill="#2b1611"/>
  <circle cx="90.6" cy="109" r="7.2" fill="#2b1611"/>
  <circle cx="33.8" cy="109.2" r="1.6" fill="#fff"/>
  <circle cx="39.2" cy="108.4" r="1.3" fill="#fff"/>
  <circle cx="88" cy="108.8" r="1.6" fill="#fff"/>
  <circle cx="93.5" cy="108.2" r="1.3" fill="#fff"/>
  <!-- eyebrows -->
  <path d="M30,98.3 C33,94 39,93.5 42.8,96" fill="none" stroke="#4a2a1e" stroke-width="2.4" stroke-linecap="round"/>
  <path d="M85.8,96 C89,93 94,93 97.4,97.4" fill="none" stroke="#4a2a1e" stroke-width="2.4" stroke-linecap="round"/>
  <!-- nose -->
  <ellipse cx="63.2" cy="116" rx="3.8" ry="2.6" fill="#e89b6e"/>
  <!-- mouth -->
  <path d="M48.5,128 L50.6,129.4 C55,135 68,135.5 73.7,128.7 L74.5,127.5" fill="none" stroke="#3d1c12" stroke-width="2" stroke-linecap="round"/>
  <!-- hair -->
  <path d="M28,38.6 C40,33 50,31 62,31.5 L83,34 C92,37 98,41 102,46 L106.6,41.5 L105.5,48.5 L116.5,54.6 L108,55.5 C116,62 120,70 119.6,80 C119.2,92 116,100 112.5,108 L110,108 C108,96 102,86 93,77 C80,82 60,85 40,85 C30,85 24,86 22,89 C19,95 18,100 18,108 L15.5,108 C10,98 8,88 8.3,78 C8.5,62 14,50 26,42 Z" fill="#0c0c0d"/>
  <path d="M49,84.5 L55,82" stroke="#d9d0cc" stroke-width="1.5" stroke-linecap="round"/>
</g>


<g id="girl">
  <!-- ponytail -->
  <path d="M620,61 C612,53 600,51 594,58 C586,70 583,90 582.3,110 C582,130 584,150 586.5,170.6 L595.8,173.8 C604,166 611,158 610.4,150 C609.5,140 606,122 605.2,105 C605,90 607,78 614.6,72.3 Z" fill="#8e5a3b"/>
  <!-- legs -->
  <rect x="644" y="258" width="15" height="40" fill="#f0a35a"/>
  <rect x="686" y="258" width="15.5" height="40" fill="#f0a35a"/>
  <!-- shoes -->
  <path d="M643.5,295 L659.5,295 L659.5,300 C659.5,306 655,307.5 651.5,307.5 C647,307.5 643.5,306 643.5,300 Z" fill="#2d201d"/>
  <path d="M685.5,295 L702,295 L702,300 C702,306 698,307.5 693.8,307.5 C689,307.5 685.5,306 685.5,300 Z" fill="#2d201d"/>
  <rect x="643.5" y="293.5" width="16" height="1.6" fill="#9a6a40"/>
  <rect x="685.5" y="293.5" width="16.5" height="1.6" fill="#9a6a40"/>
  <!-- neck -->
  <rect x="663.5" y="140" width="20" height="22" fill="#eea059"/>
  <!-- dress -->
  <path d="M646,158 C660,161 685,161 700,157 L720,157 L720,258 C712,262 700,264 680,264 C655,264 632,258 618,252 C621,236 628,215 636,198 L641,183 Z" fill="#d65cc6"/>
  <!-- puff sleeves -->
  <path d="M637,157.5 C629,157.5 623.5,164 623.5,171 C623.5,179 628,184 635,184 L649,181 L648,160 Z" fill="#d95ec8"/>
  <path d="M698,157 L720,157 L720,183 L699,181 Z" fill="#d95ec8"/>
  <!-- arms -->
  <path d="M622,186 L642,210" stroke="#f0a35a" stroke-width="10" stroke-linecap="round"/>
  <ellipse cx="645" cy="213" rx="7.5" ry="9.5" fill="#f0a35a" transform="rotate(-35 645 213)"/>
  <path d="M722,182 L701,210" stroke="#f0a35a" stroke-width="10" stroke-linecap="round"/>
  <ellipse cx="699.5" cy="213" rx="7.5" ry="9.5" fill="#f0a35a" transform="rotate(35 699.5 213)"/>
  <!-- face -->
  <path d="M617,100 L720,98 L720,138 C712,144 700,147 680,147 C660,147 640,146 630,140 C620,134 616.5,122 617,100 Z" fill="#f0a35a"/>
  <circle cx="614.5" cy="120.6" r="4" fill="#f0a35a"/>
  <ellipse cx="628" cy="134" rx="8" ry="5" fill="#f38a6a" opacity="0.45"/>
  <ellipse cx="707" cy="136" rx="8" ry="5" fill="#f38a6a" opacity="0.45"/>
  <ellipse cx="645.8" cy="123.8" rx="5.3" ry="7.4" fill="#3f1a0f"/>
  <ellipse cx="700.2" cy="123.8" rx="5.3" ry="7.4" fill="#3f1a0f"/>
  <path d="M640.5,108 C644,105 648,105 651,107.5" fill="none" stroke="#5a2a16" stroke-width="1.8" stroke-linecap="round"/>
  <path d="M696,107.7 C699,105 704,105 708.5,107.7" fill="none" stroke="#5a2a16" stroke-width="1.8" stroke-linecap="round"/>
  <path d="M667,139.5 C670,142 675,142 678,139.5" fill="none" stroke="#dd8a4a" stroke-width="1.2"/>
  <!-- hair -->
  <path d="M629,60 C635,52 645,50 660,48.5 C680,47 700,50 716.9,60.3 L720,62 L720,101 L640,102.5 L617,103 C617,90 617.5,80 618,77 C620,70 624,64 629,60 Z" fill="#8e5a3b"/>
  <path d="M672,88 L672.5,100" stroke="#c99570" stroke-width="1" opacity="0.7"/>
  <path d="M645,95 L645.5,102" stroke="#c99570" stroke-width="1" opacity="0.6"/>
  <!-- hair tie -->
  <path d="M618,59.5 L627.5,57.5 L631,73 L621.5,75 Z" fill="#d14fc8"/>
</g>

<path d="M144,56 C143,70 142,82 141.7,93 M158,48 C157,65 155.5,82 154,97.5 M136,80 C146,77 156,74 166,72 M163,57 C169,55 175,54 180,53 M169,55 C168,66 167,80 167.5,90 C170,92 174,92.5 178,92.5 M161,79 C166,76 172,74 178,72 M183,52.5 L197,52 M192,52 C191,65 190,80 190,93 M185,93 L195,92 M217.5,52 C210,55 202,64 200,76 C199,84 200,89 203,90.3 C207,91 212,84 215,78 M208.3,72.8 L222.5,70.3 M218.3,72.8 C218,82 217,90 216.7,98.7 M234,57.5 C233,70 232,82 231,93 M248,48 C247,65 245,82 243,98 M225,80 C235,77 245,74 252,72.5 M252,58 C262,55 272,53 282,52.5 M268,52 C267,65 266,80 265,94" fill="none" stroke="#f1c070" stroke-width="3.3" stroke-linecap="round" stroke-linejoin="round"/>
<path d="M313.3,49.5 C314.5,65 316,82 317.5,94.5 C319.5,84 321.5,72 324.2,65.3 C327,76 330,88 332.5,95.3 C337,86 341,74 341,66 C341,59 339,55 337,52.8 M343,59 C352,56 361,54 370,53 M355,57 C354,70 352,82 352,93 C356,93 360,92 363,92 M344,79 C350,76 357,73 363,71 M367,55 L380,51 M375,52 C374,65 373,80 373,93 M369,95 L378,93 M400,51.2 C393,55 385,65 382.5,75.3 C381.5,83 382,88 385,90 C389,91 394,83 396.7,77 M390.8,73.7 L406.7,71.2 M400.8,75.3 C400.5,84 400.2,92 400,98.7 M417,58 C416,70 415,82 414,93 M432,48 C431,65 429,82 427,98 M407,81 C415,78 425,76 433,74 M435,59 C445,56 455,53 465,52.5 M450,52 C449,65 449,80 448,94" fill="none" stroke="#2a979a" stroke-width="3.4" stroke-linecap="round" stroke-linejoin="round"/>
<path d="M497,98 C500,80 504,62 508,50 C510,65 512,80 513,95 M496,79 C503,77 511,75 518,73 M540,52 C532,56 524,66 521.7,77 C521,84 521,88 523.5,89.8 C527,91 531,84 534,78.7 M530.8,73.7 L545.8,71.2 M540,75.3 C539.8,84 539.5,92 539.2,98.7 M547,57 C556,55 565,53 573,52 M555,56 C554,68 554,80 554,92 C558,92 562,91 565,90 M543,79 C550,77 558,74 565,72" fill="none" stroke="#9c60c2" stroke-width="3.3" stroke-linecap="round" stroke-linejoin="round"/>
<path d="M282.5,76 L297.5,76 M467,76 L482,76" fill="none" stroke="#111" stroke-width="2.6" stroke-linecap="round" stroke-linejoin="round"/>
<path d="M327.2,151 C322,170 317,195 315.5,215 C315,232 314.5,245 314,255 M354,165.6 C345,170 335,180 326,192 C320,202 315,212 312,222 C326,231 341,240 355,249 M348,194 C346,202 346,210 349,213 C352,216 358,212 362,208 C368,202 372,194 376,190 C380,188 379,193 377,198 C374,204 370,212 367,212 C364,212 365,206 369,200 M385,167.5 C383,190 381,210 380.4,230 M393.8,194.6 C390,195 386,197 386.8,200 C388,204 394,207 397,211 C400,215 400,224 395,230 C391,234 385,234 385.5,229 C386,222 392,215 397,211 C403,207 409,203 414,200.8" fill="none" stroke="#0e0e0e" stroke-width="3.7" stroke-linecap="round" stroke-linejoin="round"/>
<circle cx="351" cy="179.6" r="2.9" fill="#0e0e0e"/>
</svg>
</body></html>
